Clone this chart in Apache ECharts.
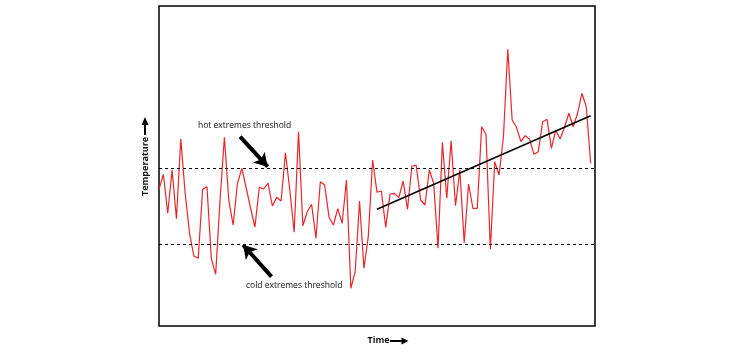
<!DOCTYPE html>
<html>
<head>
<meta charset="utf-8">
<script src="https://cdn.jsdelivr.net/npm/echarts@6/dist/echarts.min.js"></script>
<style>html,body{margin:0;padding:0;background:#fff;}#c{width:744px;height:353px;}</style>
</head>
<body>
<div id="c"></div>
<script>
// Temperature anomaly series (arbitrary units), one value per time step
const temps = [
  136.7, 151.7, 112.7, 156, 107.3, 187, 132.7, 92.7, 70, 67.7,
  136.7, 139.3, 67.7, 51.7, 126, 188.7, 126, 101, 142.7, 157.7,
  138, 118, 99, 138.7, 137, 143, 120, 128.7, 125, 173.3,
  136, 93.7, 194.3, 100.3, 114.3, 121.7, 87.7, 144.3, 141, 108.7,
  101, 117.3, 102.7, 146, 37.7, 54.3, 125, 57.7, 89.3, 166,
  133.7, 135, 98.7, 132, 132.7, 128.3, 145, 116.7, 160, 160.7,
  126, 121, 156, 142.7, 77.7, 183.7, 127.7, 185.3, 120.3, 156,
  83.3, 142, 117.7, 117.7, 199.3, 191.7, 76.7, 164.3, 151, 189.3,
  276.7, 206, 198.7, 184.3, 190.3, 186.7, 171.7, 174.3, 204.3, 206.7,
  177.7, 196, 187, 198.7, 212.7, 199.3, 212.7, 232.7, 219.3, 162.7
];
const hotThreshold = 157.7;
const coldThreshold = 81.7;
const trendX = [50, 99];
const trendY = [116.7, 210.3];
// annotation arrows: [tailX, tailY, tipX, tipY] in data units
const hotArrow = [18.6, 189.3, 24.9, 159.3];
const coldArrow = [25.8, 49.3, 19.3, 81];
const hotLabel = 'hot extremes threshold';
const coldLabel = 'cold extremes threshold';
const xName = 'Time';
const yName = 'Temperature';

const seriesData = temps.map((v, i) => [i, v]);
const trendData = trendX.map((x, i) => [x, trendY[i]]);

const chart = echarts.init(document.getElementById('c'), null, {renderer: 'canvas'});
const FONT = 'Open Sans';

function arrowLine(a) {
  return [{coord: [a[0], a[1]]}, {coord: [a[2], a[3]]}];
}

chart.setOption({
  animation: false,
  backgroundColor: '#fff',
  grid: {left: 159, top: 6, width: 436, height: 320, show: true, borderColor: '#000', borderWidth: 1.5, backgroundColor: 'transparent'},
  xAxis: {type: 'value', min: 0, max: 100, axisLine: {show: false}, axisTick: {show: false}, axisLabel: {show: false}, splitLine: {show: false}},
  yAxis: {type: 'value', min: 0, max: 320, axisLine: {show: false}, axisTick: {show: false}, axisLabel: {show: false}, splitLine: {show: false}},
  series: [
    {
      type: 'line', data: seriesData, symbol: 'none', z: 3,
      lineStyle: {color: '#e8262c', width: 1.2},
      markLine: {
        silent: true, symbol: 'none', label: {show: false},
        lineStyle: {color: '#000', type: [3, 3], width: 1},
        data: [{yAxis: hotThreshold}, {yAxis: coldThreshold}]
      }
    },
    {
      type: 'line', data: trendData, symbol: 'none', z: 4,
      lineStyle: {color: '#000', width: 1.5},
      markLine: {
        silent: true, symbol: ['none', 'arrow'], symbolSize: [12, 13], label: {show: false},
        lineStyle: {color: '#000', type: 'solid', width: 4},
        data: [arrowLine(hotArrow), arrowLine(coldArrow)]
      }
    }
  ],
  graphic: [
    {type: 'text', left: 198, top: 121, style: {text: hotLabel, font: '8.5px "' + FONT + '"', fill: '#111'}},
    {type: 'text', left: 246, top: 281, style: {text: coldLabel, font: '8.5px "' + FONT + '"', fill: '#111'}},
    {type: 'text', x: 367.5, y: 336, style: {text: xName, font: 'bold 9px "' + FONT + '"', fill: '#111'}},
    {type: 'line', shape: {x1: 390, y1: 341, x2: 403, y2: 341}, style: {stroke: '#000', lineWidth: 2}},
    {type: 'polygon', shape: {points: [[408.5, 341], [401.5, 337.5], [401.5, 344.5]]}, style: {fill: '#000'}},
    {type: 'text', x: 140.5, y: 196, rotation: Math.PI / 2, style: {text: yName, font: 'bold 9px "' + FONT + '"', fill: '#111', align: 'left', verticalAlign: 'top'}},
    {type: 'line', shape: {x1: 145, y1: 135, x2: 145, y2: 124}, style: {stroke: '#000', lineWidth: 2}},
    {type: 'polygon', shape: {points: [[145, 117], [141.5, 125], [148.5, 125]]}, style: {fill: '#000'}}
  ]
});
</script>
</body>
</html>
